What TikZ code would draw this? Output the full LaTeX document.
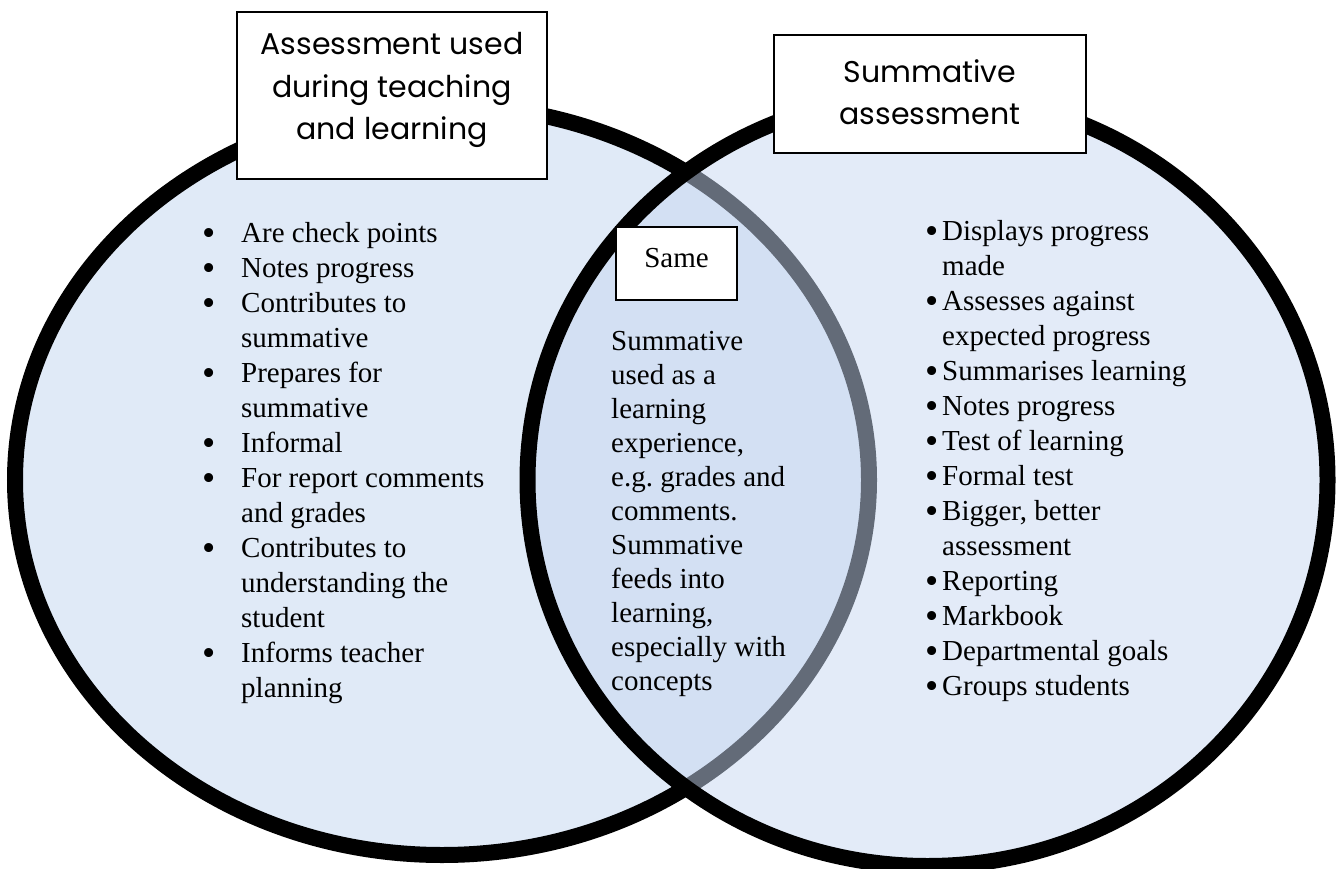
\documentclass[tikz,border=0pt]{standalone}
\usepackage{fontspec}
\setmainfont{Liberation Serif}
\newfontfamily\titlefont{Poppins}
\definecolor{leftfill}{RGB}{224,234,247}
\definecolor{rightfill}{RGB}{199,215,241}
\newcommand{\listdot}{\smash{\raisebox{-0.1em}{\scalebox{1.3}{\textbullet}}}}

\begin{document}
\frenchspacing
\begin{tikzpicture}[x=1pt,y=-1pt,
    ring/.style={line width=16pt},
    titlebox/.style={draw,fill=white,line width=1.5pt,inner sep=0pt},
    titletext/.style={font=\titlefont\fontsize{30}{42.5}\selectfont,align=center,inner sep=0pt},
    listtext/.style={inner sep=0pt,anchor=north west}]
       \useasboundingbox (0,0) rectangle (1340,869);
       % Draw the two overlapping sets
       \draw[ring,fill=leftfill] (442,480) ellipse [x radius=427pt, y radius=375pt];
       \draw[ring,fill=rightfill,fill opacity=0.5] (927.5,480) ellipse [x radius=400pt, y radius=386pt];

       % Draw the headings
       \node[titlebox,minimum width=310pt,minimum height=167pt] (setAbox) at (392,95.5) {};
       \node[titletext] (setAtitle) at (392,90) {Assessment used\\during teaching\\and learning};
       \node[titlebox,minimum width=312pt,minimum height=118pt] (setBbox) at (930,94) {};
       \node[titletext] (setBtitle) at (930,92) {Summative\\assessment};
       \node[titlebox,minimum width=121pt,minimum height=73pt,font=\fontsize{29}{35}\selectfont,
             text height=27pt,text depth=20pt] (same) at (676.5,263.5) {Same};

       % Left set
       \node[listtext,font=\fontsize{29}{35}\selectfont] (setAlist) at (202,217.5) {%
       \begin{tabular}{@{}p{39pt}@{}l@{}}
       \listdot & Are check points\\
       \listdot & Notes progress\\
       \listdot & Contributes to\\
                & summative\\
       \listdot & Prepares for\\
                & summative\\
       \listdot & Informal\\
       \listdot & For report comments\\
                & and grades\\
       \listdot & Contributes to\\
                & understanding the\\
                & student\\
       \listdot & Informs teacher\\
                & planning
       \end{tabular}};

       % Overlap
       \node[listtext,font=\fontsize{29}{34}\selectfont] (bothlist) at (611,326.2) {%
       \begin{tabular}{@{}l@{}}
       Summative\\ used as a\\ learning\\ experience,\\ e.g. grades and\\ comments.\\
       Summative\\ feeds into\\ learning,\\ especially with\\ concepts
       \end{tabular}};

       % Right set
       \node[listtext,font=\fontsize{29}{35}\selectfont] (setBlist) at (925,215.5) {%
       \begin{tabular}{@{}p{17pt}@{}l@{}}
       \listdot & Displays progress\\
                & made\\
       \listdot & Assesses against\\
                & expected progress\\
       \listdot & Summarises learning\\
       \listdot & Notes progress\\
       \listdot & Test of learning\\
       \listdot & Formal test\\
       \listdot & Bigger, better\\
                & assessment\\
       \listdot & Reporting\\
       \listdot & Markbook\\
       \listdot & Departmental goals\\
       \listdot & Groups students
       \end{tabular}};
   \end{tikzpicture}
\end{document}
